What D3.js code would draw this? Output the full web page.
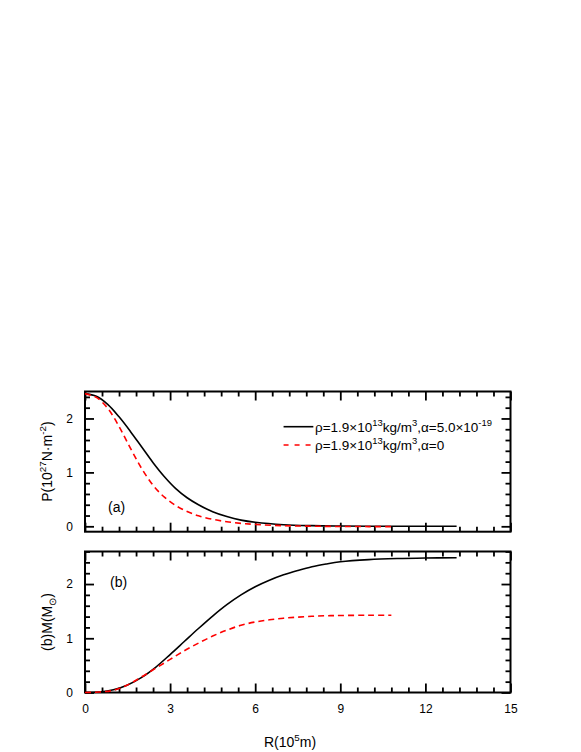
<!DOCTYPE html>
<html>
<head>
<meta charset="utf-8">
<script src="https://cdn.jsdelivr.net/npm/d3@7"></script>
<style>
  html, body { margin: 0; padding: 0; background: #fff; }
  svg { display: block; }
  text { font-family: "Liberation Sans", Arial, sans-serif; fill: #000; }
</style>
</head>
<body>
<svg id="chart" width="581" height="752"></svg>
<script>
// ---------------- data ----------------
const xTicks = [0, 3, 6, 9, 12, 15];
const yTicksP = [0, 1, 2];
const yTicksM = [0, 1, 2];

// Panel (a): pressure P (10^27 N m^-2) vs R (10^5 m)
const rP_alpha = [0, 0.4, 0.8, 1.2, 1.6, 2.0, 2.4, 2.8, 3.2, 3.6, 4.0, 4.5, 5.0, 5.5, 6.0, 7.0, 8.0, 9.0, 10.0, 11.0, 12.0, 13.1];
const P_alpha  = [2.46, 2.41, 2.26, 2.03, 1.76, 1.47, 1.18, 0.92, 0.70, 0.53, 0.40, 0.27, 0.18, 0.115, 0.075, 0.03, 0.012, 0.005, 0.002, 0.001, 0.0, 0.0];
const rP_zero  = [0, 0.4, 0.8, 1.2, 1.6, 2.0, 2.4, 2.8, 3.2, 3.6, 4.0, 4.5, 5.0, 5.5, 6.0, 7.0, 8.0, 9.0, 10.0, 10.8];
const P_zero   = [2.46, 2.39, 2.19, 1.85, 1.45, 1.07, 0.76, 0.54, 0.385, 0.275, 0.195, 0.13, 0.085, 0.055, 0.035, 0.012, 0.002, -0.003, -0.005, -0.006];

// Panel (b): mass M (M_sun) vs R (10^5 m)
const rM_alpha = [0, 0.5, 1.0, 1.5, 2.0, 2.5, 3.0, 3.5, 4.0, 4.5, 5.0, 5.5, 6.0, 6.5, 7.0, 7.5, 8.0, 8.5, 9.0, 10.0, 11.0, 12.0, 13.1];
const M_alpha  = [0, 0.01, 0.05, 0.14, 0.28, 0.47, 0.70, 0.94, 1.18, 1.41, 1.62, 1.80, 1.95, 2.07, 2.17, 2.25, 2.32, 2.37, 2.41, 2.45, 2.47, 2.48, 2.485];
const rM_zero  = [0, 0.5, 1.0, 1.5, 2.0, 2.5, 3.0, 3.5, 4.0, 4.5, 5.0, 5.5, 6.0, 6.5, 7.0, 7.5, 8.0, 8.5, 9.0, 10.0, 10.8];
const M_zero   = [0, 0.01, 0.04, 0.14, 0.29, 0.45, 0.61, 0.77, 0.91, 1.04, 1.15, 1.24, 1.30, 1.34, 1.37, 1.39, 1.405, 1.415, 1.42, 1.425, 1.425];

// ---------------- layout ----------------
const svg = d3.select("#chart");
const x = d3.scaleLinear().domain([0, 15]).range([85, 510.5]);
const yA = d3.scaleLinear().domain([-0.1, 2.5]).range([531.7, 391.5]);
const yB = d3.scaleLinear().domain([0, 2.6]).range([692.5, 551.5]);

const xMinor = d3.range(0, 15.0001, 0.6).filter(v => !xTicks.some(t => Math.abs(t - v) < 1e-6));
const majLen = 9, minLen = 5;

function panel(y, yTicks, yMinor) {
  const g = svg.append("g");
  const [x0, x1] = x.range();
  const [yb, yt] = y.range();
  g.append("g").attr("transform", `translate(0,${yb})`)
    .call(d3.axisBottom(x).tickValues(xMinor).tickSize(-minLen).tickFormat(""));
  g.append("g").attr("transform", `translate(0,${yb})`)
    .call(d3.axisBottom(x).tickValues(xTicks).tickSize(-majLen).tickFormat(""));
  g.append("g").attr("transform", `translate(0,${yt})`)
    .call(d3.axisTop(x).tickValues(xMinor).tickSize(-minLen).tickFormat(""));
  g.append("g").attr("transform", `translate(0,${yt})`)
    .call(d3.axisTop(x).tickValues(xTicks).tickSize(-majLen).tickFormat(""));
  g.append("g").attr("transform", `translate(${x0},0)`)
    .call(d3.axisLeft(y).tickValues(yMinor).tickSize(-minLen).tickFormat(""));
  g.append("g").attr("class", "ylab").attr("transform", `translate(${x0},0)`)
    .call(d3.axisLeft(y).tickValues(yTicks).tickSize(-majLen).tickPadding(12).tickFormat(d3.format("d")));
  g.append("g").attr("transform", `translate(${x1},0)`)
    .call(d3.axisRight(y).tickValues(yMinor).tickSize(-minLen).tickFormat(""));
  g.append("g").attr("transform", `translate(${x1},0)`)
    .call(d3.axisRight(y).tickValues(yTicks).tickSize(-majLen).tickFormat(""));
  g.selectAll(".domain").remove();
  g.selectAll(".tick line").attr("stroke", "#000").attr("stroke-width", 1.8);
  g.selectAll(".ylab text").attr("font-size", 12).style("font-family", '"Liberation Sans", Arial, sans-serif');
  g.append("rect").attr("x", x0).attr("y", yt).attr("width", x1 - x0).attr("height", yb - yt)
    .attr("fill", "none").attr("stroke", "#000").attr("stroke-width", 2);
  return g;
}

const yMinorP = d3.range(0, 2.5001, 0.2).filter(v => !yTicksP.some(t => Math.abs(t - v) < 1e-6));
const yMinorM = d3.range(0, 2.6001, 0.2).filter(v => !yTicksM.some(t => Math.abs(t - v) < 1e-6));
panel(yA, yTicksP, yMinorP);
panel(yB, yTicksM, yMinorM);

const xl = svg.append("g").attr("transform", `translate(0,${yB.range()[0]})`)
  .call(d3.axisBottom(x).tickValues(xTicks).tickSize(0).tickPadding(12).tickFormat(d3.format("d")));
xl.select(".domain").remove();
xl.selectAll("text").attr("font-size", 12).style("font-family", '"Liberation Sans", Arial, sans-serif');

// ---------------- curves ----------------
function drawCurve(y, rs, vs, color, dash) {
  const pts = rs.map((r, i) => [r, vs[i]]);
  const line = d3.line().x(d => x(d[0])).y(d => y(d[1])).curve(d3.curveCatmullRom.alpha(0.5));
  svg.append("path").datum(pts).attr("d", line)
    .attr("fill", "none").attr("stroke", color).attr("stroke-width", 1.6)
    .attr("stroke-dasharray", dash || null);
}
drawCurve(yA, rP_alpha, P_alpha, "#000", null);
drawCurve(yA, rP_zero, P_zero, "#ff0000", "6,4");
drawCurve(yB, rM_alpha, M_alpha, "#000", null);
drawCurve(yB, rM_zero, M_zero, "#ff0000", "6,4");

// ---------------- text helpers ----------------
function rich(parent, parts, size) {
  const t = parent.append("text").attr("font-size", size);
  let shift = 0;
  parts.forEach(p => {
    const target = p.sup ? -0.42 * size : p.sub ? 0.25 * size : 0;
    const ts = t.append("tspan").text(p.t).attr("dy", target - shift);
    if (p.sup || p.sub) ts.attr("font-size", size * 0.7);
    shift = target;
  });
  return t;
}

// legend
const lg = svg.append("g");
lg.append("line").attr("x1", x(7.0)).attr("x2", x(8.05)).attr("y1", 426.7).attr("y2", 426.7)
  .attr("stroke", "#000").attr("stroke-width", 1.6);
lg.append("line").attr("x1", x(7.0)).attr("x2", x(8.05)).attr("y1", 445).attr("y2", 445)
  .attr("stroke", "#ff0000").attr("stroke-width", 1.6).attr("stroke-dasharray", "5,6");
rich(lg, [{t: "ρ=1.9×10"}, {t: "13", sup: true}, {t: "kg/m"}, {t: "3", sup: true}, {t: ",α=5.0×10"}, {t: "-19", sup: true}], 13.5)
  .attr("x", 315).attr("y", 431.5);
rich(lg, [{t: "ρ=1.9×10"}, {t: "13", sup: true}, {t: "kg/m"}, {t: "3", sup: true}, {t: ",α=0"}], 13.5)
  .attr("x", 315).attr("y", 450);

// panel labels
svg.append("text").attr("x", 108).attr("y", 511.5).attr("font-size", 14).text("(a)");
svg.append("text").attr("x", 110).attr("y", 586.5).attr("font-size", 14).text("(b)");

// axis titles
rich(svg, [{t: "R(10"}, {t: "5", sup: true}, {t: "m)"}], 14)
  .attr("text-anchor", "middle").attr("x", 290).attr("y", 746.5);

rich(svg, [{t: "P(10"}, {t: "27", sup: true}, {t: "N·m"}, {t: "-2", sup: true}, {t: ")"}], 14)
  .attr("text-anchor", "middle")
  .attr("transform", `translate(52,${(yA.range()[0] + yA.range()[1]) / 2}) rotate(-90)`);
rich(svg, [{t: "(b)M(M"}, {t: "⊙", sub: true}, {t: ")"}], 14)
  .attr("text-anchor", "middle")
  .attr("transform", `translate(52,${(yB.range()[0] + yB.range()[1]) / 2}) rotate(-90)`);
</script>
</body>
</html>
